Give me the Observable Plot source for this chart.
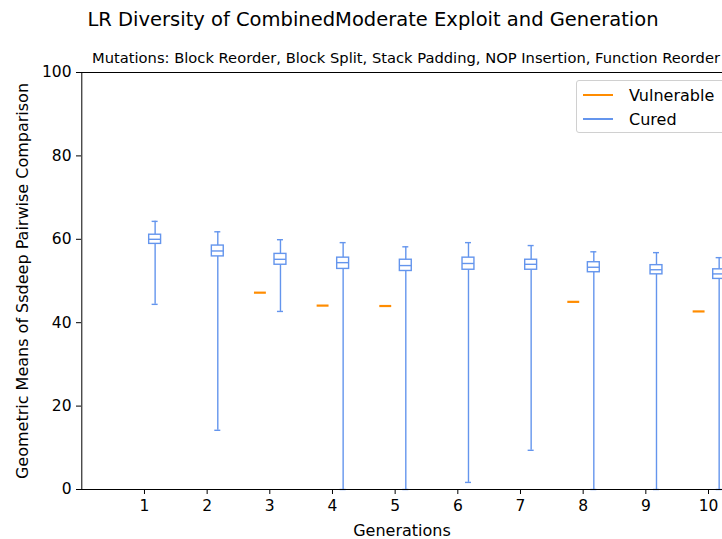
<!DOCTYPE html>
<html>
<head>
<meta charset="utf-8">
<script src="https://cdn.jsdelivr.net/npm/d3@7"></script>
<script src="https://cdn.jsdelivr.net/npm/@observablehq/plot@0.6"></script>
<style>
  html, body { margin: 0; padding: 0; background: white; overflow: hidden; }
  #wrap { position: relative; width: 722px; height: 539px; overflow: hidden; font-family: "DejaVu Sans", sans-serif; }
  #wrap svg { overflow: hidden; }
  .title { position: absolute; white-space: nowrap; color: black; transform: translate(-50%, -50%); }
  #legend { position: absolute; left: 576px; top: 80px; width: 160px; height: 53px; border: 1px solid #d0d0d0; border-radius: 3px; background: rgba(255,255,255,0.85); box-sizing: border-box; }
  .lg { position: absolute; left: 52px; font-size: 16px; white-space: nowrap; transform: translateY(-50%); color: black; }
  .ll { position: absolute; left: 6px; width: 30px; height: 2px; margin-top: -1px; }
</style>
</head>
<body>
<div id="wrap"></div>
<script>
// Data
const generations = [1, 2, 3, 4, 5, 6, 7, 8, 9, 10];
const curedMin    = [44.4, 14.2, 42.7, 0, 0, 1.7, 9.4, 0, 0, 0];
const curedQ1     = [58.9, 55.9, 53.9, 52.9, 52.4, 52.7, 52.7, 52.1, 51.6, 50.5];
const curedMedian = [60.0, 57.2, 55.2, 54.4, 53.7, 54.2, 54.0, 53.3, 52.7, 51.7];
const curedQ3     = [61.1, 58.5, 56.5, 55.6, 55.1, 55.6, 55.1, 54.5, 53.8, 52.8];
const curedMax    = [64.3, 61.8, 59.9, 59.2, 58.2, 59.2, 58.5, 57.0, 56.8, 55.6];
const vulnerableGens   = [3, 4, 5, 8, 10];
const vulnerableValues = [47.2, 44.1, 44.0, 45.0, 42.7];
const yTicks = [0, 20, 40, 60, 80, 100];

const titleText = "LR Diversity of CombinedModerate Exploit and Generation";
const subtitleText = "Mutations: Block Reorder, Block Split, Stack Padding, NOP Insertion, Function Reorder";
const xLabel = "Generations";
const yLabel = "Geometric Means of Ssdeep Pairwise Comparison";
const seriesNames = ["Vulnerable", "Cured"];
const colors = {Vulnerable: "#FF8C00", Cured: "#6495ED"};

const cured = generations.map((g, i) => ({g: g + 0.17, lo: curedMin[i], q1: curedQ1[i], med: curedMedian[i], q3: curedQ3[i], hi: curedMax[i]}));
const vuln = vulnerableGens.map((g, i) => ({g: g - 0.15, v: vulnerableValues[i]}));

const BW = 0.095; // half box width (x units)
const CW = 0.048; // half cap width
const blue = colors.Cured, orange = colors.Vulnerable;

const chart = Plot.plot({
  width: 722,
  height: 539,
  marginLeft: 81,
  marginTop: 72,
  marginBottom: 50,
  marginRight: 0,
  style: {fontFamily: "DejaVu Sans, sans-serif", fontSize: "15.5px", color: "black", background: "white"},
  x: {domain: [0, 10.335], range: [81.3, 729]},
  y: {domain: [0, 100]},
  marks: [
    // whiskers
    Plot.ruleX(cured, {x: "g", y1: "lo", y2: "q1", stroke: blue, strokeWidth: 1.4}),
    Plot.ruleX(cured, {x: "g", y1: "q3", y2: "hi", stroke: blue, strokeWidth: 1.4}),
    // caps
    Plot.ruleY(cured, {y: "lo", x1: d => d.g - CW, x2: d => d.g + CW, stroke: blue, strokeWidth: 1.4}),
    Plot.ruleY(cured, {y: "hi", x1: d => d.g - CW, x2: d => d.g + CW, stroke: blue, strokeWidth: 1.4}),
    // boxes
    Plot.rect(cured, {x1: d => d.g - BW, x2: d => d.g + BW, y1: "q1", y2: "q3", fill: "white", stroke: blue, strokeWidth: 1.4}),
    // medians
    Plot.ruleY(cured, {y: "med", x1: d => d.g - BW, x2: d => d.g + BW, stroke: blue, strokeWidth: 1.4}),
    // vulnerable (single values)
    Plot.ruleY(vuln, {y: "v", x1: d => d.g - BW, x2: d => d.g + BW, stroke: orange, strokeWidth: 2.2}),
    // frame spines
    Plot.ruleY([0, 100], {stroke: "black", strokeWidth: 1}),
    Plot.ruleX([0], {stroke: "black", strokeWidth: 1}),
    Plot.axisX(generations, {tickSize: 5, tickPadding: 5, tickFormat: d => String(d), fontSize: 15.5, label: null}),
    Plot.axisY(yTicks, {tickSize: 5, tickPadding: 5, fontSize: 15.5, label: null}),
    Plot.text([xLabel], {frameAnchor: "bottom", dy: 46, text: d => d, fontSize: 16, fill: "black"}),
    Plot.text([yLabel], {frameAnchor: "left", dx: -59, rotate: -90, textAnchor: "middle", text: d => d, fontSize: 16, fill: "black"})
  ]
});

const wrap = document.getElementById("wrap");
wrap.appendChild(chart);

function addText(txt, x, y, size) {
  const d = document.createElement("div");
  d.className = "title";
  d.style.left = x + "px";
  d.style.top = y + "px";
  d.style.fontSize = size + "px";
  d.textContent = txt;
  wrap.appendChild(d);
}
addText(titleText, 373, 19, 19.5);
addText(subtitleText, 406, 57, 14.7);

const lg = document.createElement("div");
lg.id = "legend";
seriesNames.forEach((name, i) => {
  const yy = 14 + i * 24;
  const l = document.createElement("div");
  l.className = "ll";
  l.style.top = yy + "px";
  l.style.background = colors[name];
  lg.appendChild(l);
  const t = document.createElement("div");
  t.className = "lg";
  t.style.top = yy + "px";
  t.textContent = name;
  lg.appendChild(t);
});
wrap.appendChild(lg);
</script>
</body>
</html>
